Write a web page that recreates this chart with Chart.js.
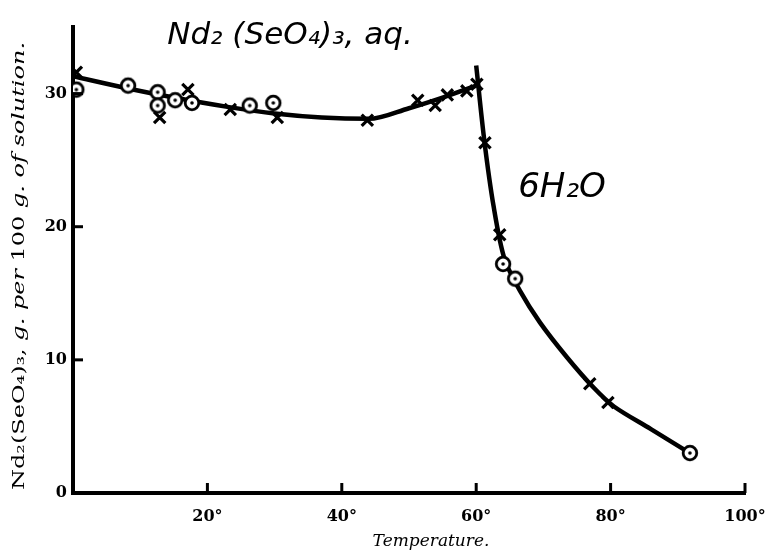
<!DOCTYPE html>
<html>
<head>
<meta charset="utf-8">
<script src="https://cdn.jsdelivr.net/npm/chart.js@4.4.1/dist/chart.umd.min.js"></script>
<style>
html, body { margin: 0; background: #fff; }
#wrap { width: 772px; height: 551px; }
</style>
</head>
<body>
<div id="wrap"><canvas id="myChart"></canvas></div>
<script>
// measured points, temperature (deg) and g. per 100 g. of solution
var crossT = [0.5, 12.9, 17.1, 23.4, 30.4, 43.8, 51.3, 53.9, 55.7, 58.6, 60.1, 61.3, 63.5, 76.9, 79.6];
var crossV = [31.6, 28.2, 30.3, 28.8, 28.2, 28.0, 29.5, 29.1, 29.9, 30.2, 30.7, 26.3, 19.4, 8.2, 6.8];
var circleT = [0.5, 8.2, 12.6, 12.6, 15.2, 17.7, 26.3, 29.8, 64.0, 65.8, 91.8];
var circleV = [30.3, 30.6, 30.1, 29.1, 29.5, 29.3, 29.1, 29.3, 17.2, 16.1, 3.0];

// the two drawn curves
var aqT = [0, 8, 15, 23, 30, 37, 44, 50, 55, 60];
var aqV = [31.3, 30.4, 29.7, 29.0, 28.5, 28.2, 28.1, 28.9, 29.7, 30.6];
var hexT = [60, 61.2, 62.6, 64.2, 66.5, 69.5, 73.5, 77.5, 80.5, 86.0, 91.8];
var hexV = [32.1, 26.5, 21.5, 17.6, 15.2, 12.8, 10.2, 7.9, 6.5, 4.8, 3.0];

var xTicks = [20, 40, 60, 80, 100];
var yTicks = [0, 10, 20, 30];

function pts(xs, ys) {
  return xs.map(function (x, i) { return { x: x, y: ys[i] }; });
}

// circle with a dot in the middle
var dotCircle = document.createElement('canvas');
dotCircle.width = 20; dotCircle.height = 20;
var dc = dotCircle.getContext('2d');
dc.beginPath(); dc.arc(10, 10, 6.8, 0, Math.PI * 2);
dc.fillStyle = '#fff'; dc.fill();
dc.lineWidth = 2.8; dc.strokeStyle = '#000'; dc.stroke();
dc.beginPath(); dc.arc(10, 10, 1.8, 0, Math.PI * 2);
dc.fillStyle = '#000'; dc.fill();

const decor = {
  id: 'decor',
  afterDraw(chart) {
    var ctx = chart.ctx, x = chart.scales.x, y = chart.scales.y;
    ctx.save();
    ctx.strokeStyle = '#000';
    ctx.lineWidth = 3;
    xTicks.forEach(function (v) {
      var px = x.getPixelForValue(v);
      ctx.beginPath(); ctx.moveTo(px, y.bottom); ctx.lineTo(px, y.bottom - 10); ctx.stroke();
    });
    yTicks.slice(1).forEach(function (v) {
      var py = y.getPixelForValue(v);
      ctx.beginPath(); ctx.moveTo(x.left, py); ctx.lineTo(x.left + 10, py); ctx.stroke();
    });

    ctx.fillStyle = '#000';
    ctx.textBaseline = 'middle';

    // x title
    ctx.font = 'italic 17px "DejaVu Serif"';
    ctx.textAlign = 'center';
    ctx.fillText('Temperature.', 431, 542);

    // y title, mixed roman / italic, stretched to the drawn length
    var parts = [
      ['Nd₂(SeO₄)₃,', '17px "DejaVu Serif"'],
      [' g. per ', 'italic 17px "DejaVu Serif"'],
      ['100', '17px "DejaVu Serif"'],
      [' g. of solution.', 'italic 17px "DejaVu Serif"']
    ];
    var total = 0;
    parts.forEach(function (p) { ctx.font = p[1]; total += ctx.measureText(p[0]).width; });
    var want = 448;
    ctx.translate(20, 266);
    ctx.rotate(-Math.PI / 2);
    ctx.scale(want / total, 1);
    ctx.textAlign = 'left';
    var pos = -total / 2;
    parts.forEach(function (p) {
      ctx.font = p[1];
      ctx.fillText(p[0], pos, 0);
      pos += ctx.measureText(p[0]).width;
    });
    ctx.setTransform(1, 0, 0, 1, 0, 0);

    // handwritten labels
    ctx.textAlign = 'center';
    ctx.font = 'italic 31px "DejaVu Sans"';
    ctx.fillText('Nd₂ (SeO₄)₃, aq.', 290, 36);
    ctx.font = 'italic 34px "DejaVu Sans"';
    ctx.fillText('6H₂O', 562, 188);
    ctx.restore();
  }
};

var ctx = document.getElementById('myChart');

const datachart = {
  datasets: [
    {
      label: 'crosses',
      data: pts(crossT, crossV),
      showLine: false,
      pointStyle: 'crossRot',
      pointRadius: 8,
      pointBorderWidth: 3.2,
      pointBorderColor: '#000'
    },
    {
      label: 'circles',
      data: pts(circleT, circleV),
      showLine: false,
      pointStyle: dotCircle
    },
    {
      label: 'aq',
      data: pts(aqT, aqV),
      showLine: true,
      borderColor: '#000',
      borderWidth: 4.5,
      pointRadius: 0,
      cubicInterpolationMode: 'monotone'
    },
    {
      label: '6H2O',
      data: pts(hexT, hexV),
      showLine: true,
      borderColor: '#000',
      borderWidth: 4.5,
      pointRadius: 0,
      tension: 0.3
    }
  ]
};

const config = {
  type: 'scatter',
  data: datachart,
  options: {
    responsive: true,
    maintainAspectRatio: false,
    animation: false,
    layout: { padding: { top: 27, right: 27, left: 0, bottom: 0 } },
    plugins: { legend: { display: false }, tooltip: { enabled: false } },
    scales: {
      x: {
        type: 'linear',
        min: 0,
        max: 100,
        afterBuildTicks: function (s) { s.ticks = xTicks.map(function (v) { return { value: v }; }); },
        afterFit: function (s) { s.height = 58; s.paddingRight = 0; s.paddingLeft = 0; },
        grid: { display: true, drawOnChartArea: false, drawTicks: false },
        border: { display: true, color: '#000', width: 4 },
        ticks: {
          color: '#000',
          padding: 14,
          font: { family: 'DejaVu Serif', size: 16, weight: 'bold' },
          callback: function (v) { return v + '°'; }
        }
      },
      y: {
        min: 0,
        max: 35,
        afterBuildTicks: function (s) { s.ticks = yTicks.map(function (v) { return { value: v }; }); },
        afterFit: function (s) { s.width = 73; s.paddingTop = 0; s.paddingBottom = 0; },
        grid: { display: true, drawOnChartArea: false, drawTicks: false },
        border: { display: true, color: '#000', width: 4 },
        ticks: {
          color: '#000',
          padding: 6,
          font: { family: 'DejaVu Serif', size: 16, weight: 'bold' }
        }
      }
    }
  },
  plugins: [decor]
};
const myChart = new Chart(ctx, config);
</script>
</body>
</html>
